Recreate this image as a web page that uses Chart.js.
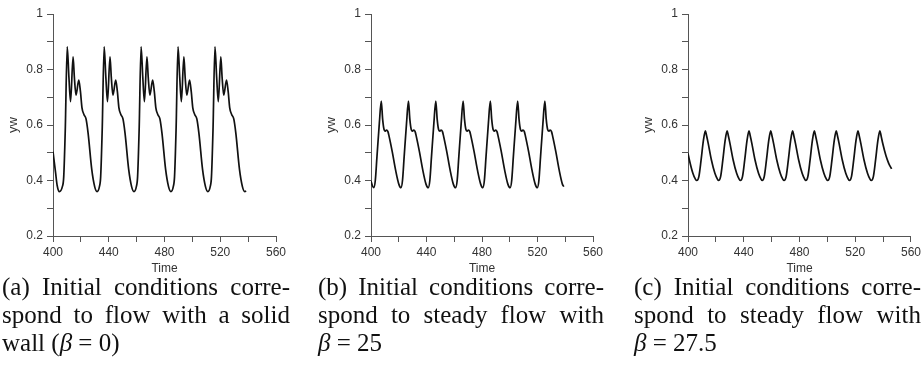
<!DOCTYPE html>
<html>
<head>
<meta charset="utf-8">
<script src="https://cdn.jsdelivr.net/npm/chart.js@4.4.1/dist/chart.umd.min.js"></script>
<style>
  html, body { margin: 0; padding: 0; background: #fff; }
  body { width: 924px; height: 370px; position: relative; overflow: hidden; }
  .panel { position: absolute; top: 0; height: 280px; }
  .cap { position: absolute; top: 273px; font-family: "Liberation Serif", "Times New Roman", serif; font-size: 25px; line-height: 28px; color: #111; }
  .cap .j { text-align: justify; text-align-last: justify; white-space: nowrap; }
</style>
</head>
<body>
<div class="panel" style="left:0;width:300px"><canvas id="chartA"></canvas></div>
<div class="panel" style="left:310px;width:300px"><canvas id="chartB"></canvas></div>
<div class="panel" style="left:620px;width:304px"><canvas id="chartC"></canvas></div>

<div class="cap" style="left:2px;width:288px">
  <div class="j">(a) Initial conditions corre-</div>
  <div class="j">spond to flow with a solid</div>
  <div>wall (<i>β</i> = 0)</div>
</div>
<div class="cap" style="left:318px;width:286px">
  <div class="j">(b) Initial conditions corre-</div>
  <div class="j">spond to steady flow with</div>
  <div><i>β</i> = 25</div>
</div>
<div class="cap" style="left:634px;width:287px">
  <div class="j">(c) Initial conditions corre-</div>
  <div class="j">spond to steady flow with</div>
  <div><i>β</i> = 27.5</div>
</div>

<script>
Chart.defaults.font.family = '"Liberation Sans", Arial, sans-serif';
Chart.defaults.color = "#333";

// axis labels
const xTickLabels = [400, 440, 480, 520, 560];
const yTickLabels = ["0.2", "0.4", "0.6", "0.8", "1"];

// (a) beta = 0
const timeA = [
  400.0, 401.8, 403.0, 404.6, 406.6, 407.7, 408.8, 410.2, 411.4, 412.6, 414.4, 415.3, 416.5, 418.5, 419.7, 420.8, 422.2, 423.7, 425.2, 427.8, 429.9, 431.6,
  433.3, 434.2, 435.3, 436.7, 437.9, 439.1, 440.9, 441.8, 443.0, 445.0, 446.2, 447.3, 448.7, 450.2, 451.7, 454.3, 456.4, 458.1,
  459.8, 460.7, 461.8, 463.2, 464.4, 465.6, 467.4, 468.3, 469.5, 471.5, 472.7, 473.8, 475.2, 476.7, 478.2, 480.8, 482.9, 484.6,
  486.3, 487.2, 488.3, 489.7, 490.9, 492.1, 493.9, 494.8, 496.0, 498.0, 499.2, 500.3, 501.7, 503.2, 504.7, 507.3, 509.4, 511.1,
  512.8, 513.7, 514.8, 516.2, 517.4, 518.6, 520.4, 521.3, 522.5, 524.5, 525.7, 526.8, 528.2, 529.7, 531.2, 533.8, 535.9, 537.6, 538.6
];
const ywA = [
  0.504, 0.430, 0.382, 0.360, 0.376, 0.414, 0.582, 0.882, 0.774, 0.684, 0.846, 0.774, 0.708, 0.762, 0.720, 0.662, 0.638, 0.622, 0.570, 0.440, 0.378, 0.360,
  0.378, 0.414, 0.582, 0.882, 0.774, 0.684, 0.846, 0.774, 0.708, 0.762, 0.720, 0.662, 0.638, 0.622, 0.570, 0.440, 0.378, 0.360,
  0.378, 0.414, 0.582, 0.882, 0.774, 0.684, 0.846, 0.774, 0.708, 0.762, 0.720, 0.662, 0.638, 0.622, 0.570, 0.440, 0.378, 0.360,
  0.378, 0.414, 0.582, 0.882, 0.774, 0.684, 0.846, 0.774, 0.708, 0.762, 0.720, 0.662, 0.638, 0.622, 0.570, 0.440, 0.378, 0.360,
  0.378, 0.414, 0.582, 0.882, 0.774, 0.684, 0.846, 0.774, 0.708, 0.762, 0.720, 0.662, 0.638, 0.622, 0.570, 0.440, 0.378, 0.360, 0.362
];

// (b) beta = 25
const timeB = [
  400.0, 401.0, 402.0, 403.1, 404.3, 406.0, 407.4, 408.4, 409.4, 410.4, 411.2, 412.2, 413.0, 415.3, 417.7, 420.1, 421.6,
  422.7, 423.9, 425.6, 427.0, 428.0, 429.0, 430.0, 430.8, 431.8, 432.6, 434.9, 437.3, 439.7, 441.3,
  442.4, 443.6, 445.3, 446.7, 447.7, 448.7, 449.7, 450.5, 451.5, 452.3, 454.6, 457.0, 459.4, 461.0,
  462.1, 463.3, 465.0, 466.4, 467.4, 468.4, 469.4, 470.2, 471.2, 472.0, 474.3, 476.7, 479.1, 480.6,
  481.7, 482.9, 484.6, 486.0, 487.0, 488.0, 489.0, 489.8, 490.8, 491.6, 493.9, 496.3, 498.7, 500.3,
  501.4, 502.6, 504.3, 505.7, 506.7, 507.7, 508.7, 509.5, 510.5, 511.3, 513.6, 516.0, 518.4, 519.9,
  521.0, 522.2, 523.9, 525.3, 526.3, 527.3, 528.3, 529.1, 530.1, 530.9, 533.2, 535.6, 538.0, 539.0
];
const ywB = [
  0.398, 0.381, 0.374, 0.400, 0.486, 0.606, 0.686, 0.620, 0.584, 0.578, 0.582, 0.576, 0.560, 0.504, 0.438, 0.386, 0.374,
  0.400, 0.486, 0.606, 0.686, 0.620, 0.584, 0.578, 0.582, 0.576, 0.560, 0.504, 0.438, 0.386, 0.374,
  0.400, 0.486, 0.606, 0.686, 0.620, 0.584, 0.578, 0.582, 0.576, 0.560, 0.504, 0.438, 0.386, 0.374,
  0.400, 0.486, 0.606, 0.686, 0.620, 0.584, 0.578, 0.582, 0.576, 0.560, 0.504, 0.438, 0.386, 0.374,
  0.400, 0.486, 0.606, 0.686, 0.620, 0.584, 0.578, 0.582, 0.576, 0.560, 0.504, 0.438, 0.386, 0.374,
  0.400, 0.486, 0.606, 0.686, 0.620, 0.584, 0.578, 0.582, 0.576, 0.560, 0.504, 0.438, 0.386, 0.374,
  0.400, 0.486, 0.606, 0.686, 0.620, 0.584, 0.578, 0.582, 0.576, 0.560, 0.504, 0.438, 0.386, 0.378
];

// (c) beta = 27.5
const timeC = [
  400.0, 401.0, 403.5, 405.4, 406.3,
  407.8, 409.4, 411.1, 412.5, 413.3, 414.5, 416.8, 419.3, 421.2, 421.9,
  423.4, 425.0, 426.7, 428.1, 428.9, 430.1, 432.4, 434.9, 436.8, 437.6,
  439.1, 440.7, 442.4, 443.8, 444.6, 445.8, 448.1, 450.6, 452.5, 453.2,
  454.7, 456.3, 458.0, 459.4, 460.2, 461.4, 463.7, 466.2, 468.1, 468.9,
  470.4, 472.0, 473.7, 475.1, 475.9, 477.1, 479.4, 481.9, 483.8, 484.5,
  486.0, 487.6, 489.3, 490.7, 491.5, 492.7, 495.0, 497.5, 499.4, 500.2,
  501.7, 503.3, 505.0, 506.4, 507.2, 508.4, 510.7, 513.2, 515.1, 515.8,
  517.3, 518.9, 520.6, 522.0, 522.8, 524.0, 526.3, 528.8, 530.7, 531.5,
  533.0, 534.6, 536.3, 537.7, 538.5, 539.7, 542.0, 544.0, 546.1
];
const ywC = [
  0.498, 0.474, 0.426, 0.404, 0.400,
  0.414, 0.474, 0.546, 0.579, 0.562, 0.534, 0.474, 0.426, 0.404, 0.400,
  0.414, 0.474, 0.546, 0.579, 0.562, 0.534, 0.474, 0.426, 0.404, 0.400,
  0.414, 0.474, 0.546, 0.579, 0.562, 0.534, 0.474, 0.426, 0.404, 0.400,
  0.414, 0.474, 0.546, 0.579, 0.562, 0.534, 0.474, 0.426, 0.404, 0.400,
  0.414, 0.474, 0.546, 0.579, 0.562, 0.534, 0.474, 0.426, 0.404, 0.400,
  0.414, 0.474, 0.546, 0.579, 0.562, 0.534, 0.474, 0.426, 0.404, 0.400,
  0.414, 0.474, 0.546, 0.579, 0.562, 0.534, 0.474, 0.426, 0.404, 0.400,
  0.414, 0.474, 0.546, 0.579, 0.562, 0.534, 0.474, 0.426, 0.404, 0.400,
  0.414, 0.474, 0.546, 0.579, 0.562, 0.534, 0.490, 0.462, 0.442
];

const AXIS_COLOR = "#555";
const NARROW = '"Liberation Sans Narrow", "Arial Narrow", "Liberation Sans", Arial, sans-serif';

function makeYwChart(canvasId, times, values, padLeft, padRight) {
  return new Chart(document.getElementById(canvasId), {
    type: "line",
    data: {
      datasets: [{
        data: times.map((t, i) => ({ x: t, y: values[i] })),
        borderColor: "#111",
        borderWidth: 1.7,
        pointRadius: 0,
        fill: false,
        cubicInterpolationMode: "monotone"
      }]
    },
    options: {
      responsive: true,
      maintainAspectRatio: false,
      animation: false,
      events: [],
      layout: { padding: { top: 14, left: padLeft, right: padRight, bottom: 0 } },
      plugins: { legend: { display: false }, tooltip: { enabled: false } },
      scales: {
        x: {
          type: "linear",
          min: 400,
          max: 560,
          afterFit: (s) => { s.height = 44; },
          border: { display: true, color: AXIS_COLOR, width: 1 },
          grid: { drawOnChartArea: false, drawTicks: true, tickLength: 6, tickColor: AXIS_COLOR },
          ticks: {
            stepSize: 20,
            padding: 3,
            maxRotation: 0,
            autoSkip: false,
            font: { family: NARROW, size: 12 },
            callback: (v) => (xTickLabels.includes(v) ? String(v) : "")
          },
          title: { display: true, text: "Time", color: "#333", font: { family: NARROW, size: 12 }, padding: { top: 2, bottom: 4 } }
        },
        y: {
          min: 0.2,
          max: 1,
          afterFit: (s) => { s.width = 51; },
          border: { display: true, color: AXIS_COLOR, width: 1 },
          grid: { drawOnChartArea: false, drawTicks: true, tickLength: 6, tickColor: AXIS_COLOR },
          ticks: {
            stepSize: 0.1,
            padding: 4,
            autoSkip: false,
            font: { size: 12 },
            callback: (v) => {
              const s = String(Math.round(v * 10) / 10);
              return yTickLabels.includes(s) ? s : "";
            }
          },
          title: { display: true, text: "yw", color: "#333", font: { size: 13 }, padding: { top: 4, bottom: 4 } }
        }
      }
    }
  });
}

makeYwChart("chartA", timeA, ywA, 2, 24);
makeYwChart("chartB", timeB, ywB, 10, 17);
makeYwChart("chartC", timeC, ywC, 17, 13);
</script>
</body>
</html>
